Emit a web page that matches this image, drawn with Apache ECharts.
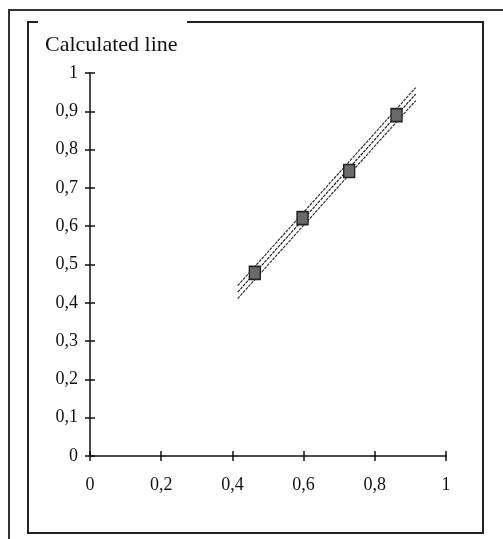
<!DOCTYPE html>
<html>
<head>
<meta charset="utf-8">
<script src="https://cdn.jsdelivr.net/npm/echarts@6/dist/echarts.min.js"></script>
<style>
  html, body { margin: 0; padding: 0; background: #fff; }
  #chart { width: 503px; height: 539px; }
</style>
</head>
<body>
<div id="chart"></div>
<script>
// measured points
var pointX = [0.463, 0.597, 0.728, 0.861];
var pointY = [0.478, 0.621, 0.744, 0.890];
// calculated line and its two side lines
var lineX = [0.415, 0.915];
var lineMid = [0.428, 0.945];
var lineUp = [0.445, 0.962];
var lineLow = [0.411, 0.928];

function pairs(xs, ys) {
    var out = [];
    for (var i = 0; i < xs.length; i++) out.push([xs[i], ys[i]]);
    return out;
}

var font = 'Liberation Serif';
var tickStyle = { color: '#111', width: 1.5 };
function fmt(v) { return String(+v.toFixed(1)).replace('.', ','); }

var chart = echarts.init(document.getElementById('chart'));
var option = {
    animation: false,
    grid: { left: 90, right: 57, top: 73, bottom: 83 },
    graphic: [
        // outer frame
        { type: 'polyline', shape: { points: [[9, 539], [9, 10], [503, 10]] },
          style: { stroke: '#333', lineWidth: 2, fill: null } },
        // inner frame, broken by the title
        { type: 'polyline', shape: { points: [[38, 22], [28, 22], [28, 533], [483, 533], [483, 22], [187, 22]] },
          style: { stroke: '#222', lineWidth: 2, fill: null } },
        { type: 'text', left: 45, top: 34,
          style: { text: 'Calculated line', font: '22px ' + font, fill: '#111' } }
    ],
    xAxis: [{
        type: 'value', min: 0, max: 1, interval: 0.2,
        splitLine: { show: false },
        axisLine: { lineStyle: tickStyle },
        axisTick: { length: 5, lineStyle: tickStyle },
        axisLabel: { margin: 20, fontFamily: font, fontSize: 18, color: '#111', formatter: fmt }
    }, {
        type: 'value', min: 0, max: 1, interval: 0.2, position: 'bottom',
        splitLine: { show: false },
        axisLine: { show: false },
        axisTick: { inside: true, length: 5, lineStyle: tickStyle },
        axisLabel: { show: false }
    }],
    yAxis: [{
        type: 'value', min: 0, max: 1, interval: 0.1,
        splitLine: { show: false },
        axisLine: { lineStyle: tickStyle },
        axisTick: { length: 5, lineStyle: tickStyle },
        axisLabel: { margin: 12, fontFamily: font, fontSize: 18, color: '#111', formatter: fmt }
    }, {
        type: 'value', min: 0, max: 1, interval: 0.1, position: 'left',
        splitLine: { show: false },
        axisLine: { show: false },
        axisTick: { inside: true, length: 5, lineStyle: tickStyle },
        axisLabel: { show: false }
    }],
    series: [
        { type: 'line', data: pairs(lineX, lineUp), symbol: 'none',
          lineStyle: { color: '#333', width: 1.2, type: [3, 1] } },
        { type: 'line', data: pairs(lineX, lineMid), symbol: 'none',
          lineStyle: { color: '#222', width: 1.2, type: [3, 1] } },
        { type: 'line', data: pairs(lineX, lineLow), symbol: 'none',
          lineStyle: { color: '#333', width: 1.2, type: [3, 1] } },
        { type: 'scatter', data: pairs(pointX, pointY), symbol: 'rect', symbolSize: [11, 13], z: 5,
          itemStyle: { color: '#6a6a6a', borderColor: '#222', borderWidth: 1.5, opacity: 1 } }
    ]
};
chart.setOption(option);
</script>
</body>
</html>
